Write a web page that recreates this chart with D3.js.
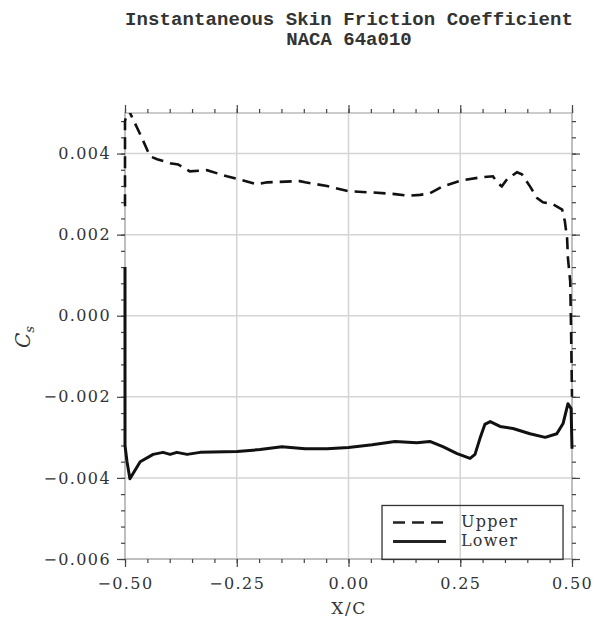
<!DOCTYPE html>
<html>
<head>
<meta charset="utf-8">
<title>Skin friction</title>
<script src="https://cdn.jsdelivr.net/npm/d3@7"></script>
<style>
body{margin:0;background:#fff}
text{font-family:"DejaVu Serif",serif;fill:#333}
</style>
</head>
<body>
<svg width="595" height="621"></svg>
<script>
// upper surface (dashed)
var upperX=[-0.5,-0.5,-0.493,-0.48,-0.462,-0.444,-0.428,-0.399,-0.381,-0.355,-0.317,-0.272,-0.243,-0.205,-0.182,-0.109,-0.097,-0.048,0,0.053,0.104,0.135,0.16,0.182,0.211,0.254,0.294,0.323,0.334,0.343,0.355,0.377,0.388,0.406,0.422,0.435,0.457,0.478,0.484,0.489,0.491,0.496,0.498,0.5];
var upperCs=[0.0027,0.0048,0.0051,0.0048,0.00438,0.00393,0.00386,0.00376,0.00373,0.00356,0.00359,0.00344,0.00336,0.00324,0.00329,0.00332,0.00329,0.0032,0.00307,0.00304,0.003,0.00296,0.00298,0.00302,0.00319,0.00334,0.00341,0.00344,0.00327,0.00319,0.00337,0.00354,0.00349,0.00319,0.0029,0.0028,0.00275,0.00262,0.00233,0.00191,0.00141,0.00085,-0.0004,-0.002];
// lower surface (solid)
var lowerX=[-0.5,-0.5,-0.4955,-0.489,-0.466,-0.437,-0.415,-0.399,-0.384,-0.361,-0.332,-0.249,-0.198,-0.149,-0.097,-0.048,0,0.053,0.104,0.153,0.182,0.211,0.243,0.272,0.283,0.294,0.305,0.317,0.339,0.368,0.406,0.44,0.466,0.48,0.491,0.498,0.5];
var lowerCs=[0.0012,-0.0032,-0.0036,-0.00402,-0.0036,-0.00342,-0.00337,-0.00342,-0.00337,-0.00342,-0.00337,-0.00335,-0.0033,-0.00323,-0.00328,-0.00328,-0.00325,-0.00318,-0.0031,-0.00313,-0.0031,-0.00323,-0.0034,-0.00352,-0.00342,-0.00303,-0.00268,-0.00261,-0.00273,-0.00278,-0.00291,-0.003,-0.00291,-0.00266,-0.00217,-0.00229,-0.00328];

var xTicks=[-0.5,-0.25,0,0.25,0.5];
var yTicks=[-0.006,-0.004,-0.002,0,0.002,0.004];
var legendNames=["Upper","Lower"];

var marge={top:113,left:125,width:447,height:446};
var svg=d3.select("svg");
var g=svg.append("g").attr("transform","translate("+marge.left+","+marge.top+")");

var x=d3.scaleLinear().domain([-0.5,0.5]).range([0,marge.width]);
var y=d3.scaleLinear().domain([-0.006,0.005]).range([marge.height,0]);

var fmtX=function(d){return d3.format(".2f")(d).replace("-","\u2212");};
var fmtY=function(d){return d3.format(".3f")(d).replace("-","\u2212");};

// grid
g.selectAll(".gx").data(xTicks).enter().append("line")
	.attr("x1",function(d){return x(d);}).attr("x2",function(d){return x(d);})
	.attr("y1",0).attr("y2",marge.height)
	.attr("stroke","#d4d4d4").attr("stroke-width",1.5);
g.selectAll(".gy").data(yTicks).enter().append("line")
	.attr("y1",function(d){return y(d);}).attr("y2",function(d){return y(d);})
	.attr("x1",0).attr("x2",marge.width)
	.attr("stroke","#d4d4d4").attr("stroke-width",1.5);

// frame
g.append("rect").attr("width",marge.width).attr("height",marge.height)
	.attr("fill","none").attr("stroke","#aaa").attr("stroke-width",1.2);

// minor ticks
var xMinor=d3.range(-0.5,0.5001,0.05);
var yMinor=d3.range(-0.006,0.00501,0.0004);
function tickAxis(axis,minor){
	return axis.tickValues(minor).tickSize(4).tickFormat("");
}
g.append("g").attr("class","ax").attr("transform","translate(0,"+marge.height+")").call(tickAxis(d3.axisBottom(x),xMinor));
g.append("g").attr("class","ax").call(tickAxis(d3.axisTop(x),xMinor));
g.append("g").attr("class","ax").call(tickAxis(d3.axisLeft(y),yMinor));
g.append("g").attr("class","ax").attr("transform","translate("+marge.width+",0)").call(tickAxis(d3.axisRight(y),yMinor));

// major ticks with labels
g.append("g").attr("class","ax lab").attr("transform","translate(0,"+marge.height+")")
	.call(d3.axisBottom(x).tickValues(xTicks).tickSize(8).tickPadding(11).tickFormat(fmtX));
g.append("g").attr("class","ax").call(d3.axisTop(x).tickValues(xTicks).tickSize(8).tickFormat(""));
g.append("g").attr("class","ax lab")
	.call(d3.axisLeft(y).tickValues(yTicks).tickSize(8).tickPadding(6).tickFormat(fmtY));
g.append("g").attr("class","ax").attr("transform","translate("+marge.width+",0)")
	.call(d3.axisRight(y).tickValues(yTicks).tickSize(8).tickFormat(""));

g.selectAll(".ax .domain").remove();
g.selectAll(".ax line").attr("stroke","#444").attr("stroke-width",1.2);
g.selectAll(".lab text").attr("font-family","DejaVu Serif").attr("font-size",16)
	.attr("letter-spacing",1.4).attr("fill","#333");

// curves
var clip=svg.append("clipPath").attr("id","clip").append("rect")
	.attr("width",marge.width+4).attr("x",-2).attr("height",marge.height);
var line=d3.line().x(function(d){return x(d[0]);}).y(function(d){return y(d[1]);});
var upper=d3.zip(upperX,upperCs);
var lower=d3.zip(lowerX,lowerCs);

g.append("path").datum(upper).attr("d",line).attr("clip-path","url(#clip)")
	.attr("fill","none").attr("stroke","#111").attr("stroke-width",2.6)
	.attr("stroke-dasharray","12,7");
g.append("path").datum(lower).attr("d",line).attr("clip-path","url(#clip)")
	.attr("fill","none").attr("stroke","#111").attr("stroke-width",3)
	.attr("stroke-linejoin","round");

// legend
var lg=g.append("g").attr("transform","translate("+x(0.075)+","+y(-0.00468)+")");
lg.append("rect").attr("width",181).attr("height",54)
	.attr("fill","none").attr("stroke","#333").attr("stroke-width",1.3);
lg.selectAll(".li").data(legendNames).enter().append("line")
	.attr("x1",11).attr("x2",64)
	.attr("y1",function(d,i){return 17+i*19;}).attr("y2",function(d,i){return 17+i*19;})
	.attr("stroke","#222").attr("stroke-width",function(d,i){return i?3:2.6;})
	.attr("stroke-dasharray",function(d,i){return i?null:"12,7";});
lg.selectAll(".lt").data(legendNames).enter().append("text")
	.attr("x",79).attr("y",function(d,i){return 22+i*19;})
	.attr("font-size",16).attr("letter-spacing",1.2)
	.text(function(d){return d;});

// titles
svg.append("text").attr("x",349).attr("y",25).attr("text-anchor","middle")
	.attr("font-weight","bold").attr("font-size",19)
	.style("font-family","Liberation Mono").attr("textLength",448)
	.text("Instantaneous Skin Friction Coefficient");
svg.append("text").attr("x",349).attr("y",45).attr("text-anchor","middle")
	.attr("font-weight","bold").attr("font-size",19)
	.style("font-family","Liberation Mono").text("NACA 64a010");

svg.append("text").attr("x",349).attr("y",614).attr("text-anchor","middle")
	.attr("font-size",17).attr("letter-spacing",1.5).text("X/C");

var yl=svg.append("text").attr("transform","translate(30,337) rotate(-90)")
	.attr("text-anchor","middle").attr("font-size",20).attr("font-style","italic");
yl.append("tspan").text("C");
yl.append("tspan").attr("font-size",13).attr("dy",4).text("s");
</script>
</body>
</html>
